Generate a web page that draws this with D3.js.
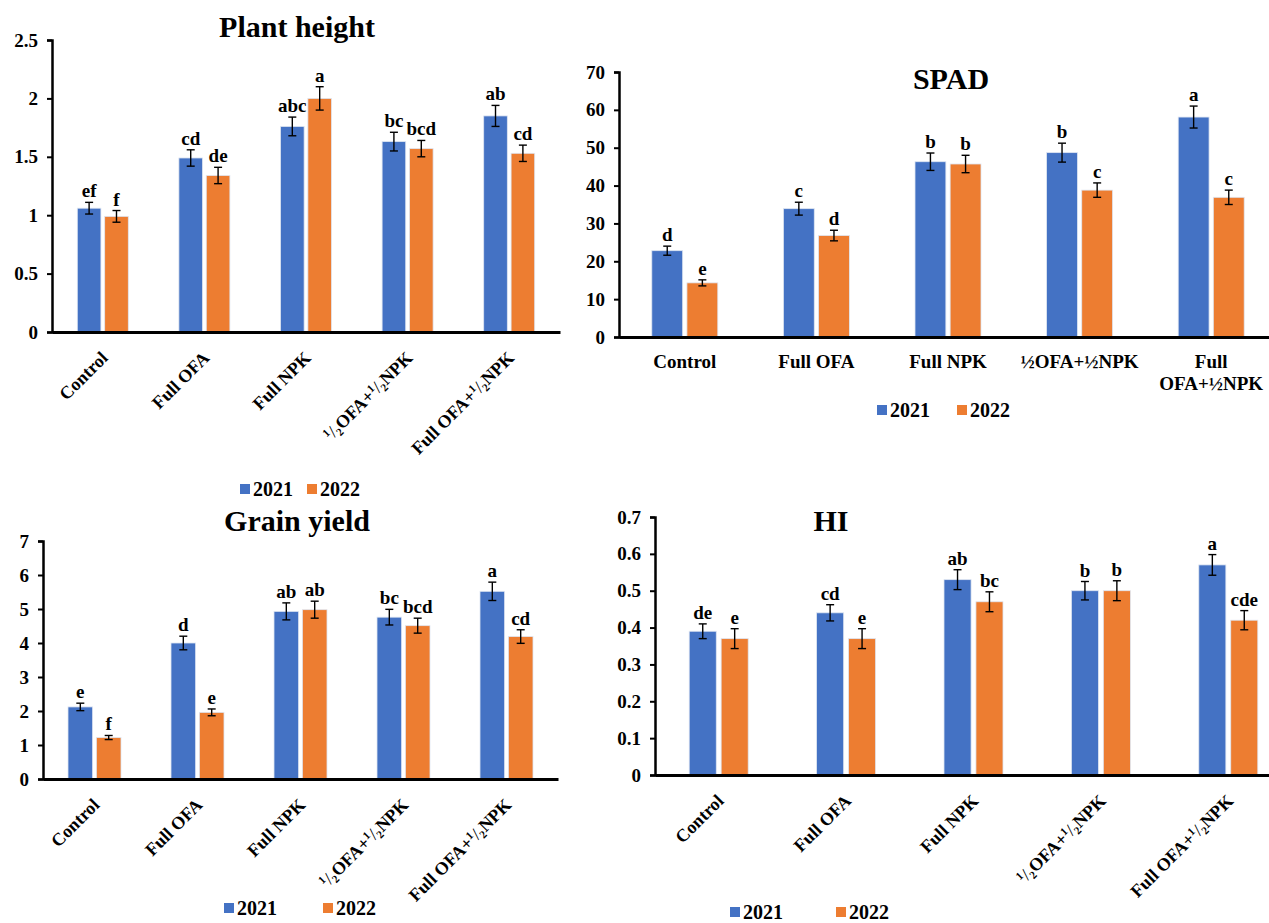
<!DOCTYPE html>
<html>
<head>
<meta charset="utf-8">
<script src="https://cdn.jsdelivr.net/npm/d3@7"></script>
<style>
  body { margin: 0; background: #fff; }
  svg text { font-family: "Liberation Serif", "DejaVu Serif", serif !important; font-weight: bold; fill: #000; }
</style>
</head>
<body>
<div id="app"></div>
<script>
// treatments and years
const TREATMENTS = ['Control', 'Full OFA', 'Full NPK', '½OFA+½NPK', 'Full OFA+½NPK'];
const YEARS = ['2021', '2022'];
const COLORS = ['#4472C4', '#ED7D31'];

// plant height
const heightY21 = [1.06, 1.49, 1.76, 1.63, 1.85];
const heightY22 = [0.99, 1.34, 2.00, 1.57, 1.53];
const heightErr21 = [0.05, 0.07, 0.08, 0.08, 0.09];
const heightErr22 = [0.05, 0.07, 0.10, 0.07, 0.07];
const heightLet21 = ['ef', 'cd', 'abc', 'bc', 'ab'];
const heightLet22 = ['f', 'de', 'a', 'bcd', 'cd'];
const heightTicks = [0, 0.5, 1, 1.5, 2, 2.5];

// SPAD
const spadY21 = [22.8, 33.9, 46.3, 48.7, 58.1];
const spadY22 = [14.3, 26.8, 45.7, 38.8, 36.9];
const spadErr21 = [1.2, 1.7, 2.3, 2.5, 2.9];
const spadErr22 = [0.8, 1.4, 2.3, 1.9, 1.9];
const spadLet21 = ['d', 'c', 'b', 'b', 'a'];
const spadLet22 = ['e', 'd', 'b', 'c', 'c'];
const spadTicks = [0, 10, 20, 30, 40, 50, 60, 70];

// grain yield
const yieldY21 = [2.12, 4.00, 4.93, 4.76, 5.52];
const yieldY22 = [1.22, 1.96, 4.98, 4.51, 4.19];
const yieldErr21 = [0.11, 0.20, 0.25, 0.23, 0.27];
const yieldErr22 = [0.06, 0.10, 0.25, 0.22, 0.20];
const yieldLet21 = ['e', 'd', 'ab', 'bc', 'a'];
const yieldLet22 = ['f', 'e', 'ab', 'bcd', 'cd'];
const yieldTicks = [0, 1, 2, 3, 4, 5, 6, 7];

// harvest index
const hiY21 = [0.39, 0.44, 0.53, 0.50, 0.57];
const hiY22 = [0.37, 0.37, 0.47, 0.50, 0.42];
const hiErr21 = [0.02, 0.022, 0.027, 0.025, 0.028];
const hiErr22 = [0.027, 0.027, 0.027, 0.027, 0.026];
const hiLet21 = ['de', 'cd', 'ab', 'b', 'a'];
const hiLet22 = ['e', 'e', 'bc', 'b', 'cde'];
const hiTicks = [0, 0.1, 0.2, 0.3, 0.4, 0.5, 0.6, 0.7];

const svg = d3.select('#app').append('svg')
  .attr('width', 1269).attr('height', 923);

// write a label, turning each ½ into a stacked 1/2 like the rotated labels of the figure
function fracLabel(sel, s) {
  const parts = s.split('½');
  parts.forEach((part, k) => {
    if (k > 0) {
      sel.append('tspan').attr('dy', -6).style('font-size', '11px').text('1');
      sel.append('tspan').attr('dy', 6).style('font-weight', 'normal').text('/');
      sel.append('tspan').attr('dy', 3).style('font-size', '11px').text('2');
      if (part) sel.append('tspan').attr('dy', -3).text(part);
    } else if (part) {
      sel.append('tspan').text(part);
    }
  });
}

function drawPanel(p) {
  const g = svg.append('g');
  const x = d3.scaleBand().domain(TREATMENTS).range([p.left, p.right]);
  const x1 = d3.scaleBand().domain(YEARS).range([0, 2 * p.barW + p.gap]).paddingInner(p.gap / (2 * p.barW + p.gap));
  const y = d3.scaleLinear().domain([0, p.max]).range([p.bottom, p.top]);

  const rows = [];
  TREATMENTS.forEach((t, i) => {
    YEARS.forEach((yr, j) => {
      rows.push({t, yr, j, v: p.vals[j][i], e: p.errs[j][i], l: p.lets[j][i]});
    });
  });
  const off = (x.bandwidth() - (2 * p.barW + p.gap)) / 2;
  const bx = d => x(d.t) + off + x1(d.yr);

  g.selectAll('rect.bar').data(rows).enter().append('rect')
    .attr('class', 'bar')
    .attr('x', bx)
    .attr('y', d => y(d.v))
    .attr('width', x1.bandwidth())
    .attr('height', d => y(0) - y(d.v))
    .attr('fill', d => COLORS[d.j])
    .attr('stroke', '#dfe6f2').attr('stroke-width', 0.8);

  // error bars
  const cx = d => bx(d) + x1.bandwidth() / 2;
  const eb = g.selectAll('g.err').data(rows).enter().append('g').attr('class', 'err')
    .attr('stroke', '#000').attr('stroke-width', 1.4);
  eb.append('line').attr('x1', cx).attr('x2', cx).attr('y1', d => y(d.v - d.e)).attr('y2', d => y(d.v + d.e));
  eb.append('line').attr('x1', d => cx(d) - 4).attr('x2', d => cx(d) + 4).attr('y1', d => y(d.v + d.e)).attr('y2', d => y(d.v + d.e));
  eb.append('line').attr('x1', d => cx(d) - 4).attr('x2', d => cx(d) + 4).attr('y1', d => y(d.v - d.e)).attr('y2', d => y(d.v - d.e));

  g.selectAll('text.let').data(rows).enter().append('text')
    .attr('class', 'let')
    .attr('x', cx)
    .attr('y', d => y(d.v + d.e) - 5)
    .attr('text-anchor', 'middle')
    .style('font-size', '19px')
    .text(d => d.l);

  // y axis
  const ya = g.append('g').attr('transform', `translate(${p.left},0)`)
    .call(d3.axisLeft(y).tickValues(p.ticks).tickSize(5).tickPadding(9).tickFormat(d => d));
  ya.select('.domain').attr('stroke', '#000').attr('stroke-width', 2.5);
  ya.selectAll('.tick line').attr('stroke', '#000').attr('stroke-width', 2);
  ya.selectAll('.tick text').style('font-size', '19px');

  // x axis
  const xa = g.append('g').attr('transform', `translate(0,${p.bottom})`)
    .call(d3.axisBottom(x).tickSize(0).tickSizeOuter(0).tickFormat(''));
  xa.select('.domain').attr('stroke', '#000').attr('stroke-width', 3);

  if (p.rotate) {
    g.selectAll('text.xl').data(TREATMENTS).enter().append('text')
      .attr('class', 'xl')
      .attr('transform', d => `translate(${x(d) + x.bandwidth() / 2 + 6},${p.bottom + 27}) rotate(-45)`)
      .attr('text-anchor', 'end')
      .style('font-size', '18px')
      .each(function (d) { fracLabel(d3.select(this), d); });
  } else {
    const xl = g.selectAll('text.xl').data(TREATMENTS).enter().append('text')
      .attr('class', 'xl')
      .attr('x', d => x(d) + x.bandwidth() / 2)
      .attr('y', p.bottom + 31)
      .attr('text-anchor', 'middle')
      .style('font-size', '19px');
    xl.each(function (d) {
      const parts = d === 'Full OFA+½NPK' ? ['Full', 'OFA+½NPK'] : [d];
      parts.forEach((s, k) => {
        d3.select(this).append('tspan')
          .attr('x', x(d) + x.bandwidth() / 2)
          .attr('dy', k === 0 ? 0 : 22)
          .text(s);
      });
    });
  }

  g.append('text')
    .attr('x', p.titleX).attr('y', p.titleY)
    .attr('text-anchor', 'middle')
    .style('font-size', '30px')
    .text(p.title);

  // legend
  const lg = g.selectAll('g.leg').data(YEARS).enter().append('g').attr('class', 'leg')
    .attr('transform', (d, i) => `translate(${p.legX + i * p.legStep},${p.legY})`);
  lg.append('rect').attr('x', 0).attr('y', -12).attr('width', 10).attr('height', 10)
    .attr('fill', (d, i) => COLORS[i]);
  lg.append('text').attr('x', 13).attr('y', 0).style('font-size', '20px').text(d => d);
}

drawPanel({
  title: 'Plant height', titleX: 297, titleY: 37,
  left: 52, right: 560, top: 40, bottom: 332, max: 2.5, ticks: heightTicks,
  barW: 22, gap: 7, rotate: true,
  vals: [heightY21, heightY22], errs: [heightErr21, heightErr22], lets: [heightLet21, heightLet22],
  legX: 240, legY: 496, legStep: 67
});

drawPanel({
  title: 'SPAD', titleX: 951, titleY: 89,
  left: 619, right: 1277, top: 72, bottom: 337, max: 70, ticks: spadTicks,
  barW: 29, gap: 8, rotate: false,
  vals: [spadY21, spadY22], errs: [spadErr21, spadErr22], lets: [spadLet21, spadLet22],
  legX: 877, legY: 417, legStep: 80
});

drawPanel({
  title: 'Grain yield', titleX: 297, titleY: 531,
  left: 43, right: 558, top: 541, bottom: 779, max: 7, ticks: yieldTicks,
  barW: 23, gap: 7, rotate: true,
  vals: [yieldY21, yieldY22], errs: [yieldErr21, yieldErr22], lets: [yieldLet21, yieldLet22],
  legX: 224, legY: 915, legStep: 99
});

drawPanel({
  title: 'HI', titleX: 831, titleY: 531,
  left: 655, right: 1292, top: 517, bottom: 775, max: 0.7, ticks: hiTicks,
  barW: 25, gap: 9, rotate: true,
  vals: [hiY21, hiY22], errs: [hiErr21, hiErr22], lets: [hiLet21, hiLet22],
  legX: 730, legY: 919, legStep: 106
});
</script>
</body>
</html>
